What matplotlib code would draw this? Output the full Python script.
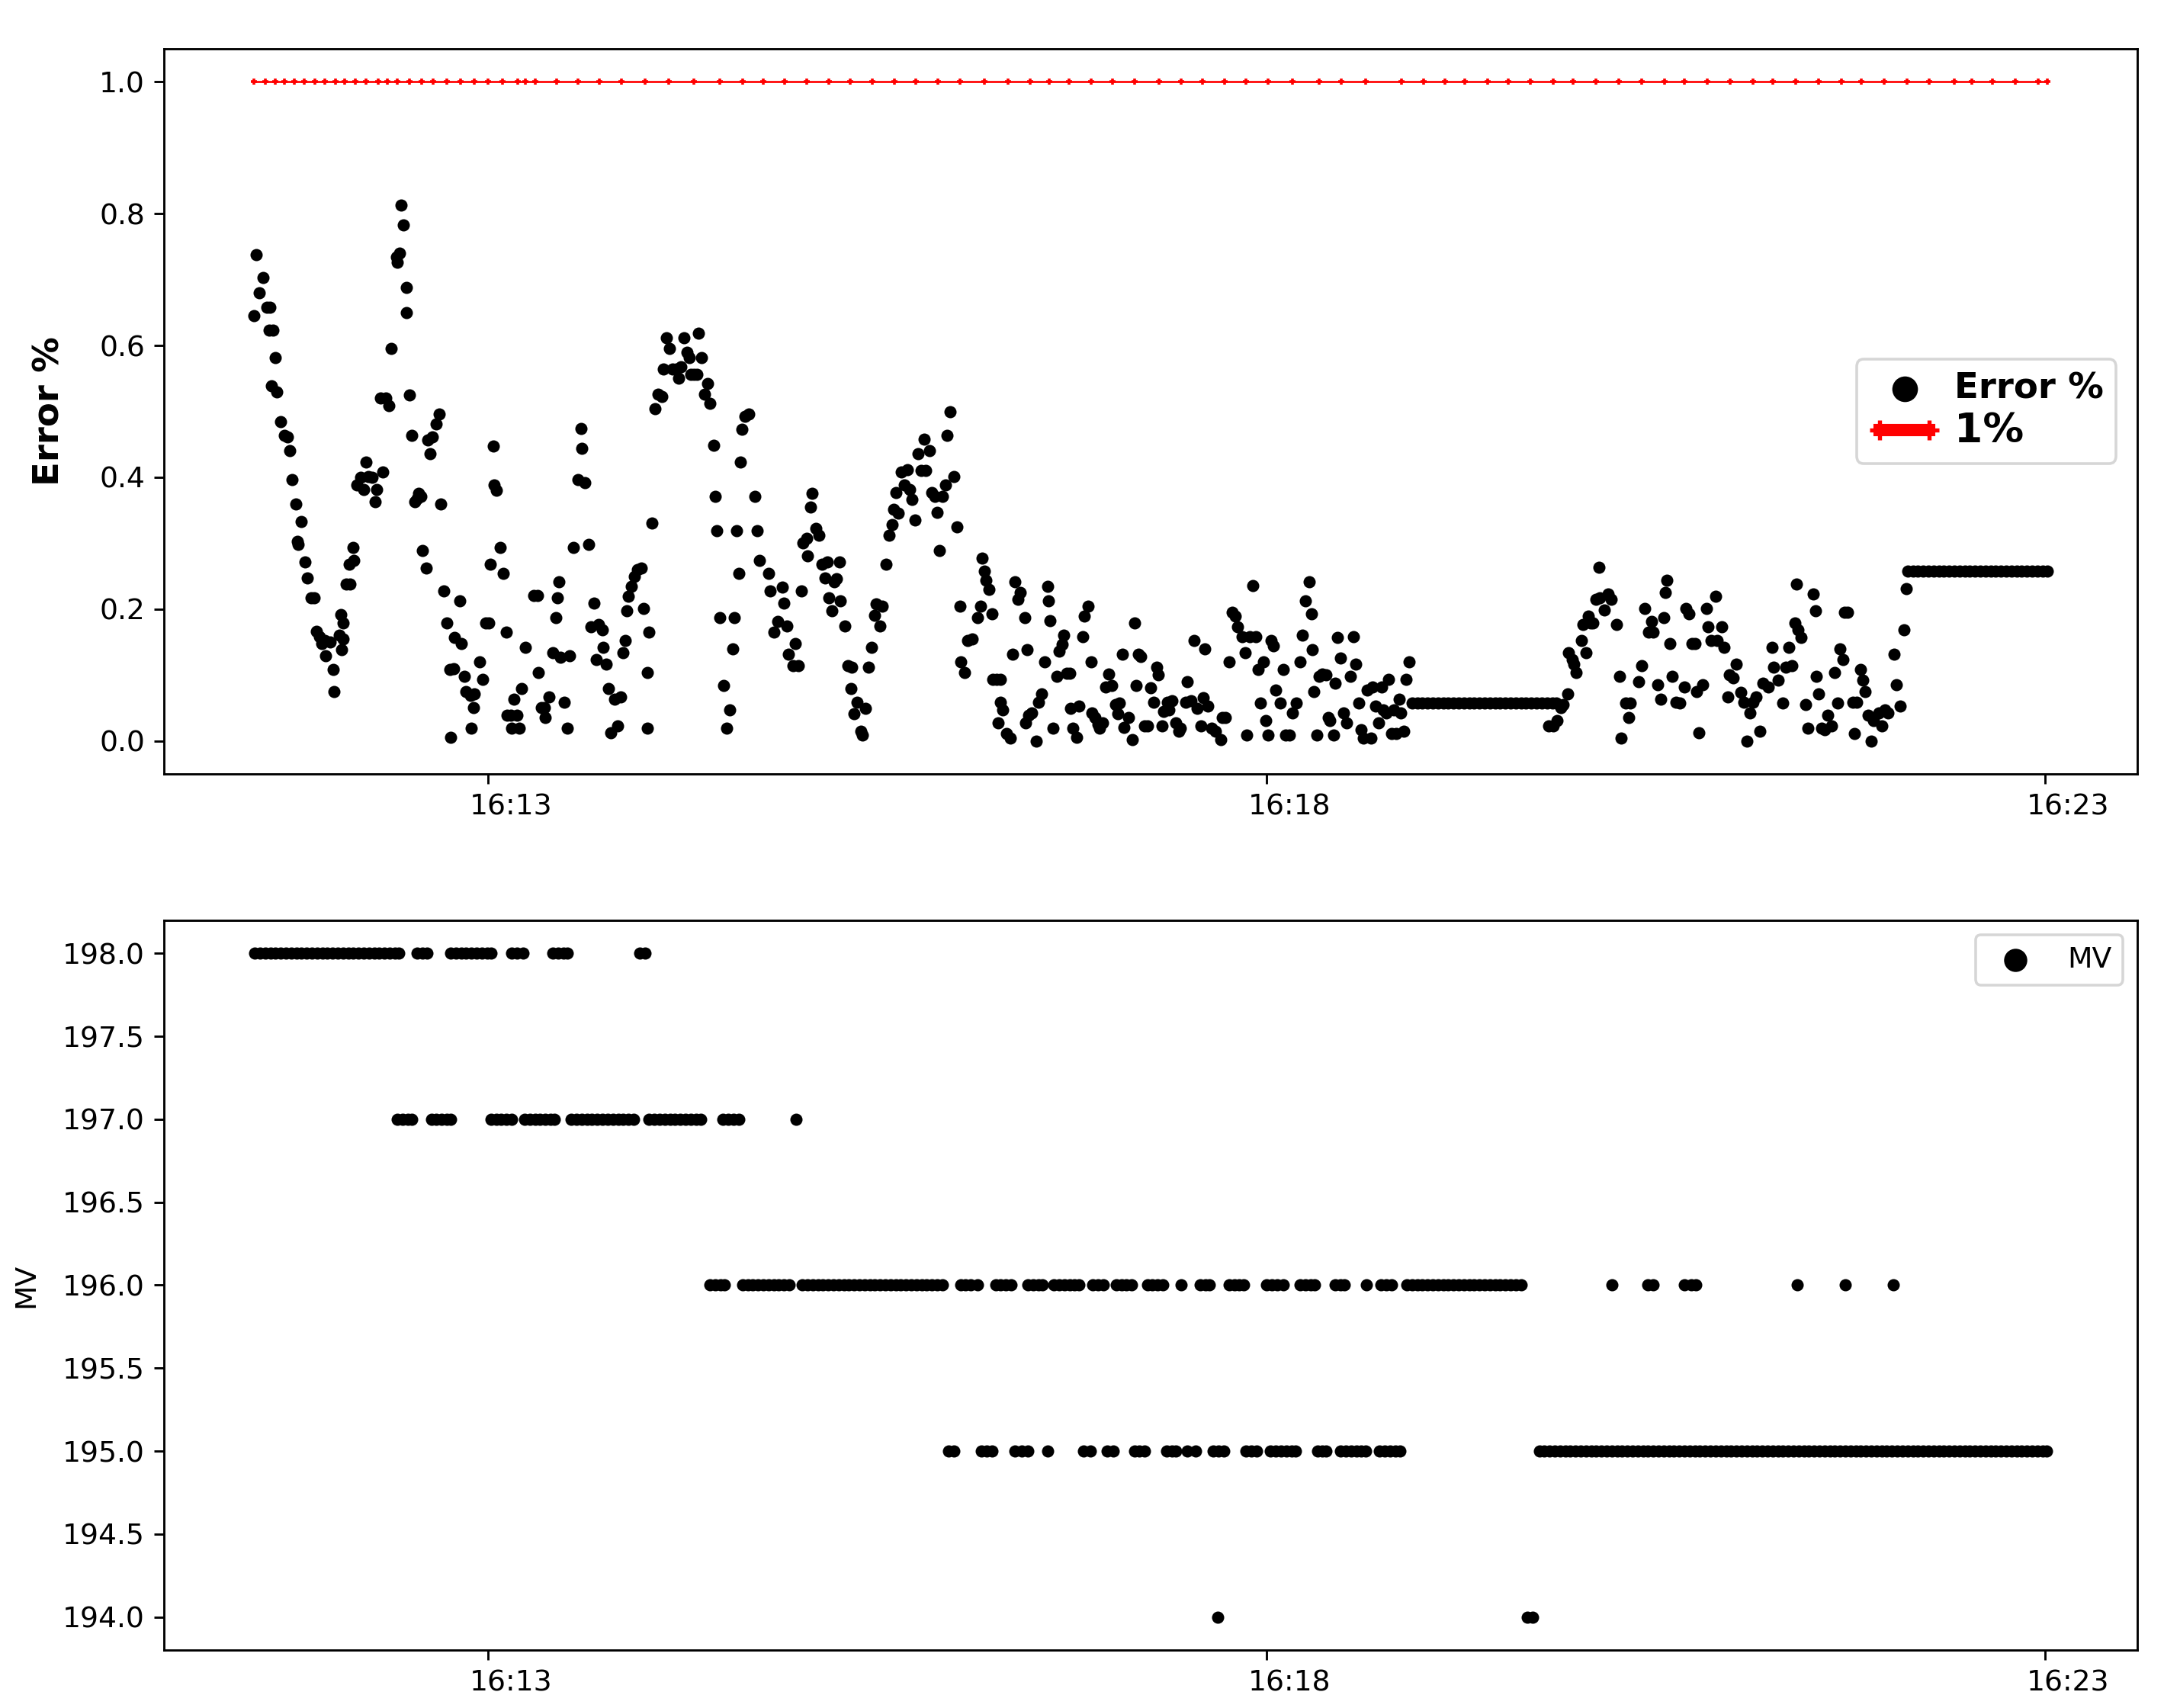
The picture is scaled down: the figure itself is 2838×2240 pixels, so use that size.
import numpy as np
import pandas as pd
import matplotlib
matplotlib.use("Agg")
import matplotlib.pyplot as plt
import matplotlib.dates as mdates
from matplotlib.transforms import ScaledTranslation

# times are seconds after 16:11:00

# Error % samples (time, value)
err_a = [
    (29.6, .645), (30.7, .738), (31.8, .680), (33.3, .703), (34.8, .658), (35.9, .658), (35.6, .623), (37.1, .623), (37.8, .582), (36.3, .539),
    (38.6, .530), (40.1, .484), (41.5, .463), (42.7, .461), (43.4, .440), (44.5, .396), (45.7, .359), (47.9, .333), (46.4, .303), (46.8, .298),
    (49.4, .272), (50.2, .247), (51.7, .217), (52.8, .217), (53.9, .166), (55.0, .158), (55.8, .148), (56.9, .152), (57.3, .129), (59.1, .150),
    (60.3, .108), (60.6, .075), (62.5, .160), (63.3, .192), (64.0, .179), (63.4, .139), (64.1, .155), (65.1, .238), (66.6, .238), (66.3, .268),
    (67.8, .293), (68.1, .274), (69.2, .388), (70.7, .400), (71.9, .382), (73.0, .423), (73.7, .401), (75.2, .400), (76.4, .363), (77.1, .382),
    (79.4, .408), (78.6, .520), (80.5, .520), (81.6, .509), (82.7, .596), (84.6, .734), (85.0, .726), (85.7, .740), (86.5, .813), (87.2, .783),
    (88.3, .688), (88.5, .650), (89.5, .525), (90.6, .463), (91.7, .363), (92.5, .367), (93.2, .376), (94.0, .371), (94.7, .289), (96.2, .262),
    (96.6, .457), (97.7, .436), (98.4, .461), (99.9, .481), (101.1, .496), (101.8, .359), (102.9, .228), (104.1, .179), (105.2, .108), (106.7, .109),
    (105.4, .006), (107.1, .157), (108.9, .213), (109.7, .148), (110.8, .098), (111.5, .075), (113.0, .069), (113.4, .019), (114.2, .051), (114.5, .071),
    (116.8, .120), (117.9, .093), (119.0, .179), (120.2, .179), (120.9, .268), (122.0, .447), (122.2, .388), (123.2, .380), (124.6, .293), (125.8, .254),
    (126.9, .165), (127.3, .039), (128.8, .039), (129.1, .019), (129.9, .063), (131.0, .039), (131.8, .019), (132.9, .079), (134.4, .142), (137.4, .221),
    (138.9, .221), (139.2, .104), (140.4, .051), (141.5, .051), (141.9, .035), (143.4, .067), (144.9, .134), (146.0, .187), (146.7, .217), (147.1, .242),
    (147.9, .127), (149.4, .059), (150.5, .019), (151.2, .129), (152.7, .294), (154.6, .396), (155.7, .474), (156.1, .444), (157.2, .392), (158.7, .298),
    (159.5, .173), (160.6, .209), (161.7, .124), (162.5, .177), (164.0, .169), (164.3, .142), (165.5, .116), (166.2, .079), (167.3, .012), (168.8, .063),
    (169.9, .023), (171.1, .067), (171.8, .134), (172.9, .152), (173.3, .197), (174.1, .220), (175.2, .234), (176.3, .250), (177.4, .260), (178.9, .262),
    (179.7, .201), (181.2, .104), (181.4, .019), (181.9, .165), (183.0, .331), (184.2, .504), (185.3, .526), (186.8, .522), (187.6, .564), (188.7, .612),
    (189.8, .596), (190.9, .564), (192.4, .564), (193.5, .550), (194.3, .568), (195.4, .612), (196.5, .590), (197.6, .582), (198.0, .556), (199.1, .556),
    (200.3, .556), (201.0, .619), (202.1, .582), (203.3, .526), (204.4, .542), (205.5, .512), (207.0, .449), (207.4, .371), (208.1, .319), (209.2, .187),
    (210.7, .084), (211.9, .019), (213.0, .047), (214.1, .140), (214.9, .187), (215.6, .319), (216.7, .254), (217.1, .423), (217.8, .473), (219.0, .493),
    (220.5, .496), (222.7, .371), (223.5, .319), (224.6, .274),
]

err_b = [
    (228.0, .254), (228.7, .228), (230.2, .165), (231.7, .181), (233.2, .233), (234.0, .209), (235.1, .174), (235.8, .131), (237.3, .114), (238.4, .148),
    (239.6, .114), (240.7, .227), (241.4, .301), (242.6, .307), (242.9, .281), (244.1, .355), (244.8, .376), (246.3, .323), (247.4, .312), (248.6, .268),
    (249.7, .247), (250.8, .271), (251.2, .217), (252.3, .197), (253.4, .242), (254.2, .246), (255.3, .272), (255.7, .213), (257.5, .174), (258.7, .114),
    (259.8, .079), (260.2, .112), (260.9, .041), (262.0, .059), (263.5, .015), (264.3, .009), (265.4, .049), (266.5, .112), (267.7, .142), (268.8, .191),
    (269.5, .208), (271.0, .174), (271.8, .204), (273.3, .268), (274.4, .312), (275.5, .328), (276.3, .351), (277.0, .377), (278.1, .345), (279.3, .408),
    (280.4, .388), (281.5, .412), (282.3, .382), (283.4, .366), (284.5, .335), (285.6, .436), (286.8, .410), (287.9, .458), (288.6, .410), (290.1, .440),
    (290.9, .377), (292.0, .371), (293.1, .347), (293.9, .289), (295.0, .371), (296.1, .388), (296.9, .463), (298.0, .499), (299.5, .401), (300.6, .325),
    (301.8, .205), (302.1, .120), (303.6, .104), (304.8, .152), (306.6, .155), (308.5, .187), (309.6, .205), (310.4, .277), (311.1, .258), (311.9, .244),
    (313.0, .230), (314.1, .193), (314.5, .093), (316.0, .093), (317.5, .093), (316.4, .027), (317.5, .059), (318.2, .047), (319.7, .011), (321.2, .004),
    (322.0, .131), (323.1, .242), (324.2, .215), (325.0, .225), (326.8, .187), (327.6, .138), (327.2, .027), (328.3, .039), (329.5, .043), (331.3, .000),
    (332.1, .059), (333.2, .071), (334.3, .120), (335.5, .234), (335.8, .213), (336.6, .182), (337.7, .019), (339.2, .098), (340.0, .136), (341.1, .147),
    (341.8, .160), (343.0, .103), (344.1, .103), (344.5, .049), (345.2, .019), (346.7, .006), (347.5, .053), (349.0, .158), (349.7, .189), (351.2, .205),
    (352.4, .120), (352.7, .043), (353.9, .035), (355.0, .025), (355.7, .019), (356.9, .027), (358.0, .082), (359.1, .102), (360.2, .084), (361.7, .055),
    (362.5, .041), (363.2, .058), (364.4, .131), (365.1, .020), (366.6, .036), (368.1, .002), (369.2, .179), (369.6, .084), (370.7, .131), (371.5, .128),
    (373.0, .023), (374.1, .023), (375.2, .081), (376.3, .059), (377.5, .112), (378.2, .100), (379.7, .023), (380.4, .045), (381.6, .059), (382.3, .047),
    (383.4, .061), (384.9, .027), (386.1, .015), (386.8, .019), (388.7, .059), (389.4, .090), (390.9, .061), (392.1, .152), (393.2, .049), (394.7, .023),
    (395.5, .066), (396.2, .140), (397.3, .053), (398.8, .019), (400.3, .015), (402.2, .002), (402.9, .035), (404.1, .035), (405.6, .120), (406.7, .195),
    (407.8, .189), (408.9, .173), (410.4, .158), (411.6, .134), (412.3, .009), (413.4, .158), (414.6, .236), (415.7, .158), (416.8, .108), (417.6, .058),
    (418.7, .120), (419.5, .031), (420.6, .009), (421.7, .152), (422.5, .144), (423.6, .077), (425.1, .058), (426.3, .108), (427.4, .009), (428.9, .009),
    (430.0, .043), (431.5, .058), (433.0, .120), (433.8, .161), (434.9, .213), (436.4, .241), (437.2, .193), (437.6, .139), (438.3, .075), (439.4, .009),
    (440.2, .098), (441.3, .101), (442.8, .100), (443.6, .035), (444.3, .031), (445.8, .009), (446.5, .088), (447.3, .157), (448.4, .126), (449.5, .043),
    (450.7, .027), (452.2, .098), (453.3, .158), (454.4, .116), (455.6, .058), (456.3, .017), (457.4, .004), (458.6, .077), (460.1, .004), (460.8, .082),
    (462.0, .053), (463.1, .027), (464.2, .082), (465.0, .047), (466.1, .043), (466.9, .093), (468.0, .011), (469.1, .047), (469.9, .011), (471.0, .063),
    (471.8, .043), (472.9, .015), (473.6, .093), (474.8, .120),
]

err_c = [
    (528.7, .023), (530.3, .023), (531.8, .031), (533.4, .051), (534.2, .055), (536.1, .071), (536.3, .134), (537.7, .124), (538.4, .116), (539.2, .104),
    (541.2, .152), (541.9, .177), (543.1, .134), (543.9, .189), (544.7, .179), (545.8, .179), (547.0, .215), (548.2, .264), (548.5, .217), (550.1, .199),
    (551.7, .223), (552.8, .215), (554.8, .177), (556.0, .098), (556.5, .004), (558.3, .058), (559.5, .035), (560.2, .058), (563.4, .090), (564.5, .114),
    (565.7, .201), (567.2, .165), (568.4, .181), (568.8, .165), (570.7, .085), (571.9, .063), (573.1, .187), (573.5, .225), (574.2, .244), (575.4, .148),
    (576.2, .098), (577.7, .059), (579.3, .058), (580.9, .082), (581.6, .201), (582.8, .193), (584.0, .148), (585.1, .148), (585.6, .075), (586.7, .012),
    (587.9, .085), (589.4, .201), (590.2, .173), (591.4, .152), (592.9, .220), (593.7, .152), (595.3, .173), (596.4, .142), (597.6, .067), (598.4, .100),
    (599.9, .096), (601.1, .116), (602.6, .074), (603.8, .059), (605.0, .000), (606.2, .043), (607.3, .059), (608.5, .067), (610.0, .015), (611.2, .088),
    (613.2, .082), (614.7, .142), (615.5, .112), (617.1, .092), (619.0, .058), (620.2, .112), (621.3, .142), (622.5, .114), (623.7, .179), (624.2, .238),
    (624.8, .169), (626.0, .157), (627.6, .055), (628.7, .019), (630.7, .223), (631.5, .197), (631.8, .098), (632.6, .071), (633.8, .019), (635.0, .017),
    (636.1, .039), (637.7, .023), (638.8, .104), (640.0, .058), (640.8, .140), (642.0, .124), (642.7, .195), (643.9, .195), (645.9, .059), (646.6, .011),
    (647.4, .059), (649.0, .108), (649.8, .092), (650.6, .075), (651.7, .039), (652.9, .000), (654.0, .031), (656.0, .043), (657.1, .023), (658.3, .047),
    (659.5, .043), (661.8, .131), (662.6, .085), (664.1, .053), (665.7, .169), (666.5, .231),
]

# stretches where the error holds one value
hold1_t = [476, 478, 480, 482, 484, 486, 488, 490, 492, 494, 496, 498, 500, 502, 504,
           506, 508, 510, 512, 514, 516, 518, 520, 522, 524, 526, 528, 530, 531.5]
hold1_v = 0.058
hold2_t = [667, 669, 671, 673, 675, 677, 679, 681, 683, 685, 687, 689, 691, 693,
           695, 697, 699, 701, 703, 705, 707, 709, 711, 713, 715, 717, 719, 721]
hold2_v = 0.258

# 1% limit line samples
limit = 1.0
limit_t = [29.6, 34.1, 37.8, 41.5, 45.3, 49.0, 53.2, 56.9, 61.0, 64.7, 68.9, 73.0, 77.5, 81.2, 85.0,
           89.5, 94.3, 98.8, 104.1, 109.3, 114.5, 119.8, 125.4, 131.4, 134.4, 138.1, 146.4, 154.6,
           162.8, 171.4, 180.4, 189.4, 199.1, 209.1, 217.9, 226.0, 234.3, 242.8, 251.2, 259.6, 268.0,
           276.4, 284.9, 293.3, 301.7, 311.1, 320.4, 328.8, 336.3, 343.8, 352.2, 360.6, 369.0, 378.4,
           386.9, 395.3, 403.7, 412.1, 420.5, 429.9, 440.2, 448.6, 458.0, 472.1, 480.5, 488.6, 496.4,
           505.2, 513.0, 521.7, 530.5, 538.2, 547.0, 555.8, 564.5, 573.3, 581.1, 589.8, 598.6, 607.3,
           615.1, 623.9, 632.6, 641.4, 649.2, 657.9, 666.7, 675.4, 685.0, 691.8, 699.8, 708.5, 717.3, 720.8]

# MV samples, one time list per level
mv_levels = [198.0, 197.0, 196.0, 195.0, 194.0]
mv_198 = [30, 32, 34, 36, 38, 40, 42, 44, 46, 48, 50, 52, 54, 56, 58, 60, 62, 64, 66, 68, 70, 72, 74,
          76, 78, 80, 82, 84, 85.5, 92.5, 94.5, 96.5, 105.5, 107.5, 109.5, 111.5, 113.5, 115.5, 117.5,
          119.5, 121, 129, 131, 133.5, 145, 147, 149, 150.5, 178.5, 180.5]
mv_197 = [85, 87, 89, 90.5, 98, 100, 102, 104, 105.5, 121, 123, 125, 127, 129, 134, 136, 138, 140,
          142, 144, 145.5, 152, 154, 156, 158, 160, 162, 164, 166, 168, 170, 172, 174, 176, 182, 184,
          186, 188, 190, 192, 194, 196, 198, 200, 202, 210.5, 212.5, 214.5, 216.5, 238.5]
mv_196 = [205.5, 207.5, 209.5, 211, 218, 220, 222, 224, 226, 228, 230, 232, 234, 236, 241, 243, 245,
          247, 249, 251, 253, 255, 257, 259, 261, 263, 265, 267, 269, 271, 273, 275, 277, 279, 281, 283,
          285, 287, 289, 291, 293, 295, 302, 304, 306, 308.5, 315.5, 317.5, 319.5, 321.5, 328, 330, 332,
          333.5, 338, 340, 342, 344, 346, 347.5, 353, 355, 357, 362, 364, 366, 368, 374, 376, 378, 380,
          387, 394.5, 396.5, 398, 405.5, 407.5, 409.5, 411, 420, 422, 424, 426.5, 433, 435, 437, 438.5,
          446.5, 448.5, 450, 458.5, 464, 466, 468, 474, 476, 478, 480, 482, 484, 486, 488, 490, 492, 494,
          496, 498, 500, 502, 504, 506, 508, 510, 512, 514, 516, 518, 553, 567, 569, 581, 583.5, 585.5,
          624.5, 643, 661.5]
mv_195 = [297.5, 299.5, 310, 312, 314, 323, 325.5, 328, 335.5, 349.5, 352, 358.5, 361, 369, 371, 373,
          381.5, 383.5, 385, 389.5, 392.5, 399.5, 401.5, 403.5, 412, 414, 416, 421.5, 423.5, 425.5, 427.5,
          429.5, 431, 439.5, 441.5, 443, 448.5, 450.5, 452.5, 454.5, 456.5, 458, 463.5, 465.5, 467.5,
          469.5, 471.5, 525, 527, 529, 531, 533, 535, 537, 539, 541, 543, 545, 547, 549, 551, 553, 555,
          557, 559, 561, 563, 565, 567, 569, 571, 573, 575, 577, 579, 581, 583, 585, 587, 589, 591, 593,
          595, 597, 599, 601, 603, 605, 607, 609, 611, 613, 615, 617, 619, 621, 623, 625, 627, 629, 631,
          633, 635, 637, 639, 641, 643, 645, 647, 649, 651, 653, 655, 657, 659, 661, 663, 665, 667, 669,
          671, 673, 675, 677, 679, 681, 683, 685, 687, 689, 691, 693, 695, 697, 699, 701, 703, 705, 707,
          709, 711, 713, 715, 717, 719, 720.5]
mv_194 = [401, 520.5, 522.5]
mv_times = [mv_198, mv_197, mv_196, mv_195, mv_194]

start = pd.Timestamp("2019-01-01 16:11:00")


def to_time(secs):
    return (start + pd.to_timedelta(np.asarray(secs, dtype=float), unit="s")).to_numpy()


err = err_a + err_b + err_c
err += [(t, hold1_v) for t in hold1_t] + [(t, hold2_v) for t in hold2_t]
err_t, err_v = zip(*err)

mv_t, mv_v = [], []
for level, times in zip(mv_levels, mv_times):
    mv_t += times
    mv_v += [level] * len(times)

dpi = 258
fig = plt.figure(figsize=(2838 / dpi, 2240 / dpi), dpi=dpi)
ax1 = fig.add_axes([0.0758, 0.5469, 0.9119, 0.4245])
ax2 = fig.add_axes([0.0758, 0.0339, 0.9119, 0.4273])

ax1.scatter(to_time(err_t), err_v, s=20, color="black", linewidths=0, label="Error %")
ax1.plot(to_time(limit_t), [limit] * len(limit_t), color="red", marker="+",
         markersize=2, linewidth=0.75, label="1%")
leg1 = ax1.legend(loc="center right", numpoints=2, markerscale=2.1,
                  prop={"weight": "bold", "size": 13}, borderpad=0.35,
                  labelspacing=0.15, handlelength=2.0, handletextpad=0.4,
                  borderaxespad=0.6)
red = leg1.get_lines()[0]
red.set_linewidth(4.5)
red.set_markersize(7)
red.set_markeredgewidth(1.5)
leg1.get_texts()[1].set_fontsize(15)
ax1.set_ylabel("Error %", fontsize=13, fontweight="bold")
ax1.yaxis.set_label_coords(-0.0495, 0.5)

ax2.scatter(to_time(mv_t), mv_v, s=20, color="black", linewidths=0, label="MV")
ax2.legend(loc="upper right", markerscale=1.9, fontsize=10.5)
ax2.set_ylabel("MV", fontsize=10.5)
ax2.yaxis.set_label_coords(-0.063, 0.5)
ax2.set_xlim(ax1.get_xlim())

for ax in (ax1, ax2):
    ax.xaxis.set_major_locator(mdates.MinuteLocator(byminute=[13, 18, 23]))
    ax.xaxis.set_major_formatter(mdates.DateFormatter("%H:%M"))
    ax.tick_params(labelsize=10.5)

# the time labels sit a little right of their ticks
fig.canvas.draw()
shift = ScaledTranslation(30 / dpi, 0, fig.dpi_scale_trans)
for ax in (ax1, ax2):
    for tick in ax.xaxis.get_major_ticks():
        tick.label1.set_transform(tick.label1.get_transform() + shift)

fig.savefig("out.png", dpi=dpi)
